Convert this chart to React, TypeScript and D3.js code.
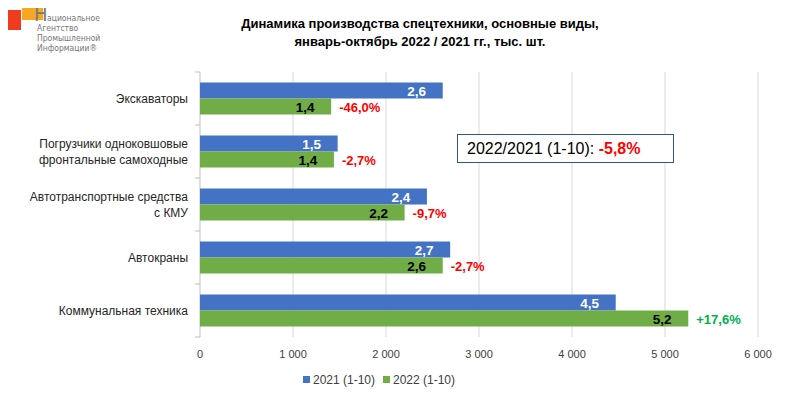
import { useEffect, useRef } from 'react';
import * as d3 from 'd3';

const categories = [
  ['Экскаваторы'],
  ['Погрузчики одноковшовые', 'фронтальные самоходные'],
  ['Автотранспортные средства', 'с КМУ'],
  ['Автокраны'],
  ['Коммунальная техника'],
];
const values2021 = [2610, 1480, 2440, 2690, 4470];
const values2022 = [1410, 1440, 2200, 2610, 5250];
const labels2021 = ['2,6', '1,5', '2,4', '2,7', '4,5'];
const labels2022 = ['1,4', '1,4', '2,2', '2,6', '5,2'];
const changes = ['-46,0%', '-2,7%', '-9,7%', '-2,7%', '+17,6%'];
const xTicks = [0, 1000, 2000, 3000, 4000, 5000, 6000];
const seriesNames = ['2021 (1-10)', '2022 (1-10)'];

const BLUE = '#4472c4';
const GREEN = '#70ad47';
const FONT = '"Liberation Sans", Arial, sans-serif';

const App = () => {
  const svgRef = useRef<SVGSVGElement>(null);
  const width = 800;
  const height = 394;

  useEffect(() => {
    const svg = d3.select(svgRef.current);
    svg.selectAll('*').remove();
    svg.style('font-family', FONT);

    const x = d3.scaleLinear().domain([0, 6000]).range([200, 758]);
    const y = d3.scaleBand<number>()
      .domain(d3.range(categories.length))
      .range([72, 337]);
    const pad = 10.5;
    const barH = (y.bandwidth() - pad * 2) / 2;

    // logo
    const logo = svg.append('g');
    logo.append('rect').attr('x', 0).attr('y', 10).attr('width', 21).attr('height', 20).attr('fill', '#f03c1e');
    logo.append('rect').attr('x', 22).attr('y', 0).attr('width', 21).attr('height', 20).attr('fill', '#f7a823');
    logo.append('text').attr('x', 6).attr('y', 8).attr('font-size', 5).attr('fill', '#555').text('НАПИ');
    logo.append('text').attr('x', 34).attr('y', 21).attr('font-size', 20).attr('fill', '#777')
      .style('font-family', '"DejaVu Sans Condensed", sans-serif').text('Н');
    ['ациональное', 'Агентство', 'Промышленной', 'Информации®'].forEach((t, i) => {
      logo.append('text')
        .attr('x', i === 0 ? 47 : 37)
        .attr('y', 21 + i * 10)
        .attr('font-size', 8.5)
        .attr('fill', '#777')
        .style('font-family', '"DejaVu Sans Condensed", sans-serif')
        .text(t);
    });

    // title
    svg.append('text')
      .attr('x', 420).attr('y', 28).attr('text-anchor', 'middle')
      .attr('font-size', 13).attr('font-weight', 'bold')
      .text('Динамика производства спецтехники, основные виды,');
    svg.append('text')
      .attr('x', 420).attr('y', 46).attr('text-anchor', 'middle')
      .attr('font-size', 13).attr('font-weight', 'bold')
      .text('январь-октябрь 2022 / 2021 гг., тыс. шт.');

    // grid
    svg.append('g')
      .selectAll('line')
      .data(xTicks.slice(1))
      .join('line')
      .attr('x1', d => x(d)).attr('x2', d => x(d))
      .attr('y1', 72).attr('y2', 337)
      .attr('stroke', '#d9d9d9');

    // x tick labels
    svg.append('g')
      .selectAll('text')
      .data(xTicks)
      .join('text')
      .attr('x', d => x(d)).attr('y', 358)
      .attr('text-anchor', 'middle')
      .attr('font-size', 11)
      .attr('fill', '#404040')
      .text(d => d3.format(',')(d).replace(',', ' '));

    // y axis
    svg.append('line')
      .attr('x1', 200).attr('x2', 200).attr('y1', 72).attr('y2', 337)
      .attr('stroke', '#bfbfbf');
    svg.append('g')
      .selectAll('line')
      .data(d3.range(categories.length + 1))
      .join('line')
      .attr('x1', 195).attr('x2', 200)
      .attr('y1', d => 72 + d * y.step()).attr('y2', d => 72 + d * y.step())
      .attr('stroke', '#bfbfbf');

    // category labels
    categories.forEach((lines, i) => {
      const cy = (y(i) as number) + y.bandwidth() / 2;
      const t = svg.append('text')
        .attr('x', 188)
        .attr('text-anchor', 'end')
        .attr('font-size', 12)
        .attr('fill', '#262626');
      lines.forEach((ln, j) => {
        t.append('tspan')
          .attr('x', 188)
          .attr('y', cy + 4 + (j - (lines.length - 1) / 2) * 16)
          .text(ln);
      });
    });

    // bars
    const g = svg.append('g');
    g.selectAll('rect.b21')
      .data(values2021)
      .join('rect')
      .attr('class', 'b21')
      .attr('x', x(0))
      .attr('y', (_, i) => (y(i) as number) + pad)
      .attr('width', d => x(d) - x(0))
      .attr('height', barH)
      .attr('fill', BLUE);
    g.selectAll('rect.b22')
      .data(values2022)
      .join('rect')
      .attr('class', 'b22')
      .attr('x', x(0))
      .attr('y', (_, i) => (y(i) as number) + pad + barH)
      .attr('width', d => x(d) - x(0))
      .attr('height', barH)
      .attr('fill', GREEN);

    // value labels
    g.selectAll('text.l21')
      .data(values2021)
      .join('text')
      .attr('class', 'l21')
      .attr('x', d => x(d) - 26)
      .attr('y', (_, i) => (y(i) as number) + pad + barH / 2 + 5)
      .attr('text-anchor', 'middle')
      .attr('font-size', 13.5).attr('font-weight', 'bold').attr('fill', '#fff')
      .text((_, i) => labels2021[i]);
    g.selectAll('text.l22')
      .data(values2022)
      .join('text')
      .attr('class', 'l22')
      .attr('x', d => x(d) - 26)
      .attr('y', (_, i) => (y(i) as number) + pad + barH * 1.5 + 5)
      .attr('text-anchor', 'middle')
      .attr('font-size', 13.5).attr('font-weight', 'bold').attr('fill', '#000')
      .text((_, i) => labels2022[i]);
    g.selectAll('text.chg')
      .data(values2022)
      .join('text')
      .attr('class', 'chg')
      .attr('x', d => x(d) + 8)
      .attr('y', (_, i) => (y(i) as number) + pad + barH * 1.5 + 5)
      .attr('font-size', 13).attr('font-weight', 'bold')
      .attr('fill', (_, i) => (changes[i].startsWith('+') ? '#00b050' : '#ff0000'))
      .text((_, i) => changes[i]);

    // summary box
    svg.append('rect')
      .attr('x', 457.5).attr('y', 134.5).attr('width', 216).attr('height', 28)
      .attr('fill', '#fff').attr('stroke', '#2f5597');
    const st = svg.append('text').attr('x', 467).attr('y', 154).attr('font-size', 16);
    st.append('tspan').attr('fill', '#000').text('2022/2021 (1-10): ');
    st.append('tspan').attr('fill', '#ff0000').attr('font-weight', 'bold').text('-5,8%');

    // legend
    const lg = svg.append('g');
    const lx = [303, 383];
    seriesNames.forEach((n, i) => {
      lg.append('rect').attr('x', lx[i]).attr('y', 376).attr('width', 7).attr('height', 7)
        .attr('fill', i === 0 ? BLUE : GREEN);
      lg.append('text').attr('x', lx[i] + 10).attr('y', 384)
        .attr('font-size', 12).attr('fill', '#404040').text(n);
    });
  }, []);

  return (
    <div style={{ margin: -8 }}>
      <svg ref={svgRef} width={width} height={height}></svg>
    </div>
  );
};

export default App;
